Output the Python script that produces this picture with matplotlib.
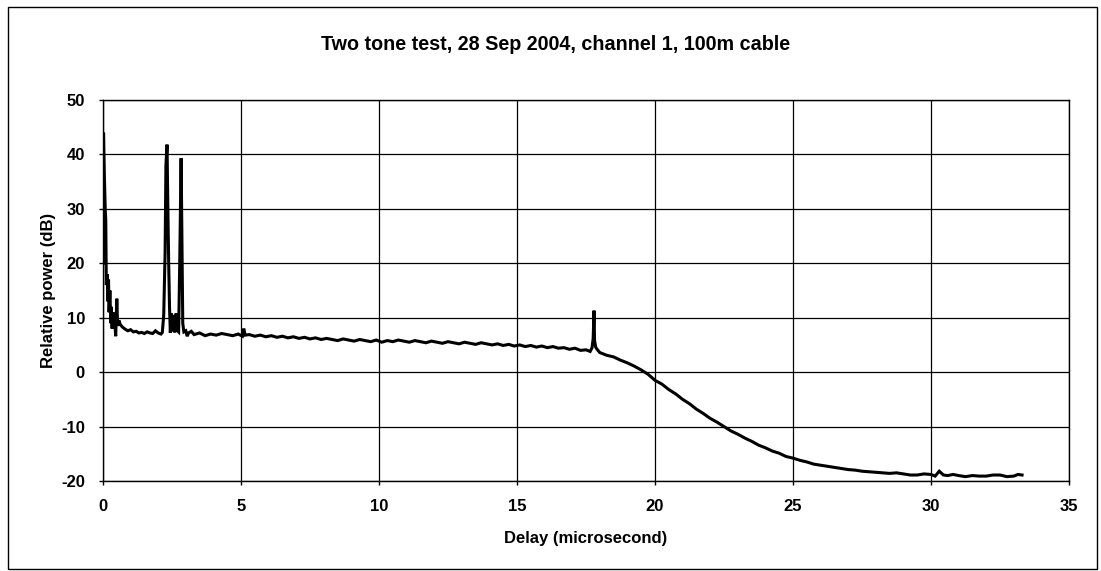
import numpy as np
import matplotlib
matplotlib.use("Agg")
import matplotlib.pyplot as plt
from matplotlib.patches import Rectangle

plt.rcParams['font.family'] = ['Liberation Sans', 'DejaVu Sans']
plt.rcParams['axes.unicode_minus'] = False

# Values, in segments
# start of the trace: direct path and the two echo spikes
onset_x = [0.00, 0.02, 0.05, 0.08, 0.10, 0.12, 0.15, 0.18, 0.20, 0.22, 0.25, 0.28,
           0.30, 0.33, 0.36, 0.40, 0.43, 0.46, 0.48, 0.50, 0.53, 0.58, 0.62, 0.70,
           0.80, 0.90, 1.00, 1.10, 1.20, 1.30, 1.40, 1.50, 1.60, 1.70, 1.80, 1.90,
           2.00, 2.10, 2.15, 2.20, 2.25, 2.28, 2.32, 2.35, 2.38, 2.41, 2.44, 2.47,
           2.50, 2.55, 2.60, 2.65, 2.70, 2.74, 2.78, 2.83, 2.86, 2.89, 2.93, 3.00,
           3.05, 3.10, 3.20]
onset_y = [20.0, 44.0, 36.0, 30.0, 28.0, 16.0, 18.0, 13.0, 17.0, 11.0, 15.0, 9.0,
           12.0, 8.0, 11.0, 9.5, 9.0, 6.6, 10.0, 13.5, 8.5, 9.5, 8.8, 8.3,
           7.9, 7.6, 7.8, 7.4, 7.5, 7.2, 7.3, 7.1, 7.4, 7.2, 7.1, 7.6,
           7.2, 7.0, 7.3, 10.5, 22.0, 38.0, 41.8, 30.0, 20.0, 12.0, 7.2, 10.8,
           7.5, 10.5, 7.3, 10.8, 7.6, 7.4, 20.0, 39.3, 25.0, 9.0, 7.4, 7.6,
           6.6, 7.2, 7.5]

# slowly falling plateau
plateau_x = [3.3, 3.5, 3.7, 3.9, 4.1, 4.3, 4.5, 4.7, 4.9, 5.05, 5.1, 5.15, 5.3, 5.5,
             5.7, 5.9, 6.1, 6.3, 6.5, 6.7, 6.9, 7.1, 7.3, 7.5, 7.7, 7.9, 8.1, 8.3,
             8.5, 8.7, 8.9, 9.1, 9.3, 9.5, 9.7, 9.9, 10.1, 10.3, 10.5, 10.7, 10.9,
             11.1, 11.3, 11.5, 11.7, 11.9, 12.1, 12.3, 12.5, 12.7, 12.9, 13.1, 13.3,
             13.5, 13.7, 13.9, 14.1, 14.3, 14.5, 14.7, 14.9, 15.1, 15.3, 15.5, 15.7,
             15.9, 16.1, 16.3, 16.5, 16.7, 16.9, 17.1, 17.3, 17.5, 17.65]
plateau_y = [6.9, 7.2, 6.7, 7.0, 6.8, 7.1, 6.9, 6.7, 7.0, 6.6, 8.0, 6.8, 6.9, 6.6,
             6.8, 6.5, 6.7, 6.4, 6.6, 6.3, 6.5, 6.2, 6.4, 6.1, 6.3, 6.0, 6.2, 6.0,
             5.8, 6.1, 5.9, 5.7, 6.0, 5.8, 5.6, 5.9, 5.5, 5.8, 5.6, 5.9, 5.7,
             5.5, 5.8, 5.6, 5.4, 5.7, 5.5, 5.3, 5.6, 5.4, 5.2, 5.5, 5.3,
             5.1, 5.4, 5.2, 5.0, 5.2, 4.9, 5.1, 4.8, 5.0, 4.7, 4.9, 4.6,
             4.8, 4.5, 4.7, 4.4, 4.5, 4.2, 4.4, 4.0, 4.1, 3.8]

# small spike near 17.8 us
spike_x = [17.72, 17.76, 17.79, 17.81, 17.85, 17.90]
spike_y = [4.5, 6.2, 11.3, 5.8, 4.6, 4.2]

# roll-off down to the noise floor
rolloff_x = [18.0, 18.25, 18.5, 18.75, 19.0, 19.25, 19.5, 19.75, 20.0, 20.25, 20.5,
             20.75, 21.0, 21.25, 21.5, 21.75, 22.0, 22.25, 22.5, 22.75, 23.0, 23.25,
             23.5, 23.75, 24.0, 24.25, 24.5, 24.75, 25.0, 25.25, 25.5, 25.75, 26.0,
             26.25, 26.5, 26.75, 27.0, 27.25, 27.5, 27.75, 28.0, 28.25, 28.5, 28.75,
             29.0, 29.25, 29.5, 29.75, 30.0, 30.15, 30.3, 30.45, 30.6, 30.8, 31.0,
             31.25, 31.5, 31.75, 32.0, 32.25, 32.5, 32.75, 33.0, 33.15, 33.3]
rolloff_y = [3.6, 3.1, 2.8, 2.2, 1.7, 1.1, 0.4, -0.4, -1.5, -2.2, -3.2,
             -4.0, -5.0, -5.8, -6.8, -7.6, -8.5, -9.2, -10.0, -10.8, -11.4, -12.1,
             -12.7, -13.4, -13.9, -14.5, -14.9, -15.5, -15.8, -16.2, -16.5, -16.9, -17.1,
             -17.3, -17.5, -17.7, -17.9, -18.0, -18.2, -18.3, -18.4, -18.5, -18.6, -18.5,
             -18.7, -18.9, -18.9, -18.7, -18.8, -19.1, -18.2, -18.9, -19.0, -18.8, -19.0,
             -19.2, -19.0, -19.1, -19.1, -18.9, -18.9, -19.2, -19.1, -18.8, -18.9]

delay_us = onset_x + plateau_x + spike_x + rolloff_x
power_db = onset_y + plateau_y + spike_y + rolloff_y

x_ticks = [0, 5, 10, 15, 20, 25, 30, 35]
y_ticks = [-20, -10, 0, 10, 20, 30, 40, 50]

fig = plt.figure(figsize=(11.01, 5.71), dpi=100)
ax = fig.add_axes([103 / 1101, 1 - 481 / 571, 966 / 1101, 381 / 571])

ax.plot(delay_us, power_db, color='black', linewidth=2.2, solid_joinstyle='miter')

ax.set_xlim(0, 35)
ax.set_ylim(-20, 50)
ax.set_xticks(x_ticks)
ax.set_yticks(y_ticks)
ax.grid(True, color='black', linewidth=0.9)
ax.set_axisbelow(True)
for s in ax.spines.values():
    s.set_linewidth(1.0)
ax.tick_params(direction='out', length=3, width=1, labelsize=12, pad=10)
for lbl in ax.get_xticklabels() + ax.get_yticklabels():
    lbl.set_fontweight('bold')

ax.set_xlabel("Delay (microsecond)", fontsize=12, fontweight='bold', labelpad=12)
ax.set_ylabel("Relative power (dB)", fontsize=12, fontweight='bold', labelpad=4)
fig.text(556 / 1101, 1 - 45 / 571, "Two tone test, 28 Sep 2004, channel 1, 100m cable",
         ha='center', va='center', fontsize=14.2, fontweight='bold')

# outer chart border
fig.patches.append(Rectangle((8 / 1101, 2 / 571), 1089 / 1101, 562 / 571,
                             transform=fig.transFigure, fill=False,
                             edgecolor='black', linewidth=1.0))

fig.savefig("out.png", dpi=100)
